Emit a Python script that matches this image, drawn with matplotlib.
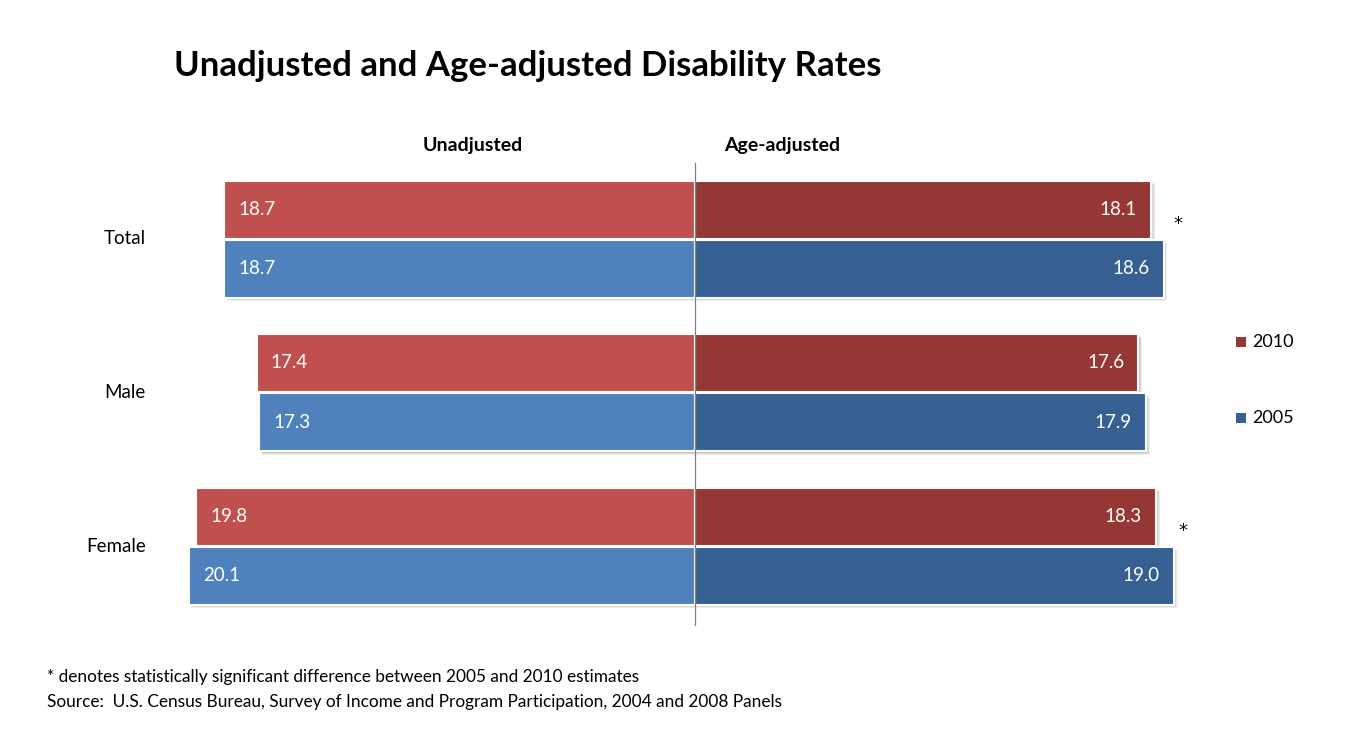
import numpy as np
import matplotlib.pyplot as plt
from matplotlib.patches import Rectangle

# data
groups = ["Total", "Male", "Female"]
unadj_2010 = [18.7, 17.4, 19.8]
unadj_2005 = [18.7, 17.3, 20.1]
ageadj_2010 = [18.1, 17.6, 18.3]
ageadj_2005 = [18.6, 17.9, 19.0]
significant = [True, False, True]

red_left = "#C0504D"
red_right = "#953735"
blue_left = "#4F81BD"
blue_right = "#376092"

plt.rcParams["font.family"] = ["Lato", "DejaVu Sans"]

W, H = 1350, 742
fig = plt.figure(figsize=(W / 100, H / 100), dpi=100)
ax = fig.add_axes([0, 0, 1, 1])

# pixel mapping: center at x=695, 25.19 px per unit; groups 153.5 px apart
px_unit = 25.19
cx = 695
ax.set_xlim((0 - cx) / px_unit, (W - cx) / px_unit)
gap = 153.5
y0 = 239
ax.set_ylim((H - y0) / gap, (0 - y0) / gap)
ax.axis("off")

bar_h = 58 / gap
off = 29.5 / gap
sh_dx = 3 / px_unit
sh_dy = 3 / gap


def draw_bar(x_start, width, yc, color):
    left = min(x_start, x_start + width)
    w = abs(width)
    for k, a in [(1.3, 0.12), (0.9, 0.15), (0.5, 0.2)]:
        ax.add_patch(Rectangle((left + sh_dx * k, yc - bar_h / 2 + sh_dy * k), w, bar_h,
                               facecolor="#707070", edgecolor="none", alpha=a, zorder=1))
    ax.barh(yc, width, left=x_start, height=bar_h, color=color,
            edgecolor="white", linewidth=1.5, zorder=2)


lab_pad = 14 / px_unit
for i, g in enumerate(groups):
    y_top = i - off
    y_bot = i + off
    draw_bar(0, -unadj_2010[i], y_top, red_left)
    draw_bar(0, -unadj_2005[i], y_bot, blue_left)
    draw_bar(0, ageadj_2010[i], y_top, red_right)
    draw_bar(0, ageadj_2005[i], y_bot, blue_right)

    ax.text(-unadj_2010[i] + lab_pad, y_top, f"{unadj_2010[i]:.1f}", color="white",
            fontsize=13.5, ha="left", va="center", zorder=4)
    ax.text(-unadj_2005[i] + lab_pad, y_bot, f"{unadj_2005[i]:.1f}", color="white",
            fontsize=13.5, ha="left", va="center", zorder=4)
    ax.text(ageadj_2010[i] - lab_pad, y_top, f"{ageadj_2010[i]:.1f}", color="white",
            fontsize=13.5, ha="right", va="center", zorder=4)
    ax.text(ageadj_2005[i] - lab_pad, y_bot, f"{ageadj_2005[i]:.1f}", color="white",
            fontsize=13.5, ha="right", va="center", zorder=4)

    ax.text((146 - cx) / px_unit, i, g, fontsize=13.5, ha="right", va="center")

    if significant[i]:
        ax.text(ageadj_2010[i] + 27 / px_unit, i - 0.1, "*", fontsize=13,
                family="DejaVu Sans", ha="center", va="center")

# center line
ax.plot([0, 0], [(163 - y0) / gap, (625 - y0) / gap], color="#808080", linewidth=0.9, zorder=3)

fig.text(174 / W, 1 - 66 / H, "Unadjusted and Age-adjusted Disability Rates",
         fontsize=25, fontweight="bold", ha="left", va="center")
fig.text(473 / W, 1 - 145 / H, "Unadjusted", fontsize=14, fontweight="bold",
         ha="center", va="center")
fig.text(782 / W, 1 - 145 / H, "Age-adjusted", fontsize=14, fontweight="bold",
         ha="center", va="center")

# legend
for lbl, col, ly in [("2010", red_right, 342), ("2005", blue_right, 418)]:
    fig.patches.append(Rectangle((1236 / W, 1 - (ly + 5) / H), 10 / W, 10 / H,
                                 transform=fig.transFigure, facecolor=col,
                                 edgecolor="none"))
    fig.text(1252 / W, 1 - ly / H, lbl, fontsize=13, ha="left", va="center")

fig.text(47 / W, 1 - 677 / H,
         "* denotes statistically significant difference between 2005 and 2010 estimates",
         fontsize=12.4, ha="left", va="center")
fig.text(47 / W, 1 - 702 / H,
         "Source:  U.S. Census Bureau, Survey of Income and Program Participation, 2004 and 2008 Panels",
         fontsize=12.4, ha="left", va="center")

fig.savefig("out.png", dpi=100)
